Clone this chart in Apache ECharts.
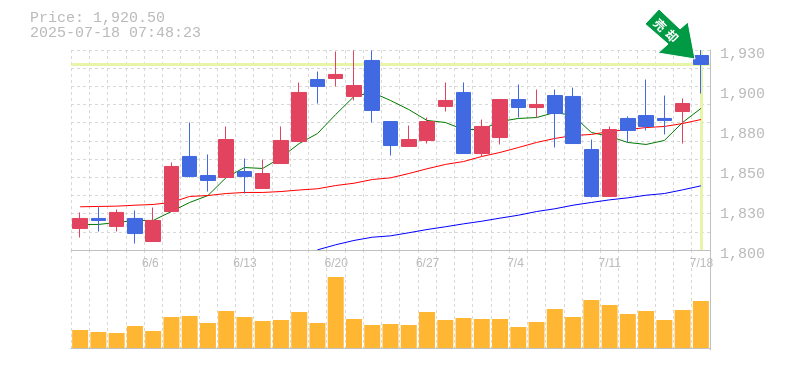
<!DOCTYPE html>
<html>
<head>
<meta charset="utf-8">
<style>
html, body { margin: 0; padding: 0; background: #fff; }
#chart { width: 785px; height: 370px; }
</style>
<script src="https://cdn.jsdelivr.net/npm/echarts@6/dist/echarts.min.js"></script>
</head>
<body>
<div id="chart"></div>
<script>
const priceText = 'Price: 1,920.50'
const timeText = '2025-07-18 07:48:23'
const lastPrice = 1920.5
const signalText = ['売', '却']

const categories = [
    '6/2', '6/3', '6/4', '6/5', '6/6', '6/9', '6/10', '6/11', '6/12', '6/13',
    '6/16', '6/17', '6/18', '6/19', '6/20', '6/23', '6/24', '6/25', '6/26', '6/27',
    '6/30', '7/1', '7/2', '7/3', '7/4', '7/7', '7/8', '7/9', '7/10', '7/11',
    '7/14', '7/15', '7/16', '7/17', '7/18'
]
const priceTicks = ['1,800', '1,830', '1,850', '1,880', '1,900', '1,930']

// open, close, low, high
const candles = [
    [1814, 1820.5, 1808.1, 1824.4],
    [1820.5, 1819.2, 1812, 1827.8],
    [1815.3, 1824.4, 1812, 1826.3],
    [1820.5, 1810.7, 1804.2, 1825.7],
    [1805.5, 1819.2, 1805.5, 1827.6],
    [1825, 1854.3, 1825, 1856.9],
    [1860.8, 1847.8, 1847.1, 1882.9],
    [1848.4, 1845.2, 1838, 1862.1],
    [1847.1, 1871.8, 1847.1, 1880.3],
    [1851, 1847.8, 1836.7, 1859.5],
    [1840, 1849.7, 1840, 1858.8],
    [1856.2, 1871.2, 1856.2, 1880.3],
    [1870.5, 1902.4, 1870.5, 1908.9],
    [1910.8, 1906.3, 1895.2, 1916],
    [1911.5, 1914.1, 1906.3, 1929],
    [1899.8, 1906.9, 1897.2, 1929.7],
    [1923.2, 1890.7, 1882.9, 1929.7],
    [1883.5, 1867.9, 1861.4, 1883.5],
    [1867.3, 1871.8, 1867.3, 1880.9],
    [1871.2, 1883.5, 1869.2, 1886.1],
    [1893.3, 1897.2, 1890, 1908.9],
    [1902.4, 1862.7, 1862.7, 1908.9],
    [1862.7, 1880.3, 1860.8, 1884.8],
    [1873.1, 1897.8, 1868.6, 1897.8],
    [1897.8, 1892.6, 1886.1, 1907.6],
    [1892.6, 1894.6, 1886.1, 1904.3],
    [1900.4, 1888.7, 1866.6, 1904.3],
    [1899.8, 1869.2, 1869.2, 1905.6],
    [1865.3, 1834.8, 1834.1, 1871.8],
    [1834.8, 1878.3, 1834.8, 1880.3],
    [1885.5, 1877.7, 1869.9, 1886.8],
    [1887.4, 1880.3, 1877.7, 1910.8],
    [1885.5, 1884.2, 1875.1, 1900.4],
    [1890, 1895.2, 1869.2, 1898.5],
    [1926.4, 1920.6, 1901.7, 1930]
]
const maShort = [
    1816.6, 1816.6, 1817.9, 1819.2, 1819.2, 1825, 1830.9, 1835.4, 1847.1, 1853.6,
    1853, 1860.1, 1869.2, 1875.7, 1888.1, 1899.8, 1902.4, 1897.2, 1891.3, 1884.2,
    1882.9, 1878.3, 1878.3, 1883.5, 1885.5, 1886.1, 1889.4, 1887.4, 1876.4, 1873.8,
    1869.9, 1868.6, 1871.2, 1882.9, 1892
]
const maMiddle = [
    1828.1, 1828.3, 1828.5, 1829.1, 1829.6, 1830.9, 1834.8, 1835.4, 1836.7, 1837.4,
    1837.4, 1838, 1839, 1839.8, 1841.9, 1843.4, 1845.8, 1846.9, 1849.7, 1852.8,
    1855.6, 1857.5, 1860.8, 1863.4, 1866.6, 1869.9, 1872.5, 1874.4, 1875.1, 1877,
    1878.3, 1879.6, 1880.3, 1882.2, 1884.8
]
const maLong = [
    null, null, null, null, null, null, null, null, null, null,
    null, null, null, 1800.1, 1803.4, 1806.2, 1808.3, 1809.2, 1811.2, 1813.3,
    1815.1, 1817, 1818.7, 1820.7, 1822.6, 1825, 1826.8, 1829.1, 1830.9, 1832.6,
    1833.9, 1835.6, 1836.7, 1839.1, 1841.7
]
const volumes = [
    18, 16, 15, 22, 17, 31, 32, 25, 37, 31,
    27, 28, 36, 25, 71, 29, 23, 24, 23, 36,
    28, 30, 29, 29, 21, 26, 39, 31, 48, 43,
    34, 37, 28, 38, 47
]

const gray = '#bbbbbb'
const axisGray = '#c0c0c0'
const dash = { color: '#d8d8d8', type: [3, 3], width: 1 }
const monoFont = '"Liberation Mono", monospace'

const chart = echarts.init(document.getElementById('chart'), null, { renderer: 'canvas' })

function maLine(data, color) {
    return {
        type: 'line',
        data: data,
        symbol: 'none',
        z: 2,
        silent: true,
        lineStyle: { color: color, width: 1 }
    }
}

chart.setOption({
    animation: false,
    backgroundColor: '#fff',
    title: {
        text: priceText + '\n' + timeText,
        left: 30,
        top: 11,
        padding: 0,
        textStyle: { color: gray, fontFamily: monoFont, fontSize: 15, fontWeight: 'normal', lineHeight: 15 }
    },
    grid: [
        { left: 71, top: 50, width: 639, height: 200 },
        { left: 71, top: 250, width: 639, height: 100 },
        { left: 69, top: 250, width: 639, height: 100 } // 日付ラベル用
    ],
    xAxis: [
        { // 価格の足
            type: 'category',
            gridIndex: 0,
            data: categories,
            axisLabel: { show: false },
            axisTick: { show: false },
            axisLine: { lineStyle: { color: axisGray } },
            splitLine: { show: true, interval: 0, lineStyle: dash }
        },
        { // 出来高
            type: 'category',
            gridIndex: 1,
            data: categories,
            axisLabel: { show: false },
            axisTick: { show: false },
            axisLine: { lineStyle: { color: axisGray } },
            splitLine: { show: true, interval: 0, lineStyle: dash }
        },
        { // 日付ラベルは足の左端から
            type: 'value',
            gridIndex: 2,
            position: 'top',
            min: 0,
            max: categories.length,
            interval: 1,
            axisLine: { show: false },
            axisTick: { show: false },
            splitLine: { show: false },
            axisLabel: {
                inside: true,
                margin: 8,
                align: 'left',
                verticalAlign: 'top',
                color: gray,
                fontFamily: '"Liberation Sans", sans-serif',
                fontSize: 12,
                formatter: v => (v % 5 === 4 ? categories[v] : '')
            }
        }
    ],
    yAxis: [
        { // 点線の目盛
            type: 'value',
            gridIndex: 0,
            position: 'right',
            min: 1800,
            max: 1930,
            interval: 130 / 11,
            axisLabel: { show: false },
            axisTick: { show: false },
            axisLine: { show: true, lineStyle: { color: axisGray } },
            splitLine: { show: true, lineStyle: dash }
        },
        { // 価格ラベル
            type: 'value',
            gridIndex: 0,
            position: 'right',
            min: 1800,
            max: 1930,
            interval: 26,
            axisTick: { show: false },
            axisLine: { show: false },
            splitLine: { show: false },
            axisLabel: {
                margin: 10,
                verticalAlign: 'top',
                padding: [-3, 0, 0, 0],
                color: gray,
                fontFamily: monoFont,
                fontSize: 15,
                formatter: (v, i) => priceTicks[i]
            }
        },
        {
            type: 'value',
            gridIndex: 1,
            position: 'right',
            min: -2,
            max: 98,
            axisLabel: { show: false },
            axisTick: { show: false },
            axisLine: { show: true, lineStyle: { color: axisGray } },
            splitLine: { show: false }
        },
        {
            type: 'value',
            gridIndex: 2,
            show: false
        }
    ],
    series: [
        {
            type: 'line',
            data: [],
            z: 1,
            silent: true,
            markLine: {
                silent: true,
                symbol: 'none',
                z: 1,
                label: { show: false },
                lineStyle: { color: '#e6f5a8', width: 3, type: 'solid' },
                data: [
                    { yAxis: lastPrice },
                    { xAxis: categories.length - 1 }
                ]
            }
        },
        maLine(maShort, '#007a00'),
        maLine(maMiddle, '#ff0000'),
        maLine(maLong, '#0000ff'),
        {
            type: 'candlestick',
            data: candles,
            barWidth: 15,
            z: 3,
            itemStyle: {
                color: '#e2435f',
                borderColor: '#e2435f',
                color0: '#4169e1',
                borderColor0: '#4169e1',
                borderWidth: 1
            }
        },
        {
            type: 'bar',
            xAxisIndex: 1,
            yAxisIndex: 2,
            data: volumes,
            barWidth: 16,
            itemStyle: { color: '#ffb733' }
        }
    ],
    graphic: [
        {
            type: 'polygon',
            z: 100,
            shape: { points: [[659, 9], [680, 29], [688, 22], [695, 59], [658, 53], [668, 44], [645, 24]] },
            style: { fill: '#009944', stroke: '#ffffff', lineWidth: 1 }
        },
        {
            type: 'text', z: 101, x: 660, y: 25, rotation: -Math.PI / 4,
            style: { text: signalText[0], fill: '#fff', font: 'bold 12px "Noto Sans CJK JP"', align: 'center', verticalAlign: 'middle' }
        },
        {
            type: 'text', z: 101, x: 672, y: 36, rotation: -Math.PI / 4,
            style: { text: signalText[1], fill: '#fff', font: 'bold 12px "Noto Sans CJK JP"', align: 'center', verticalAlign: 'middle' }
        }
    ]
})
</script>
</body>
</html>
